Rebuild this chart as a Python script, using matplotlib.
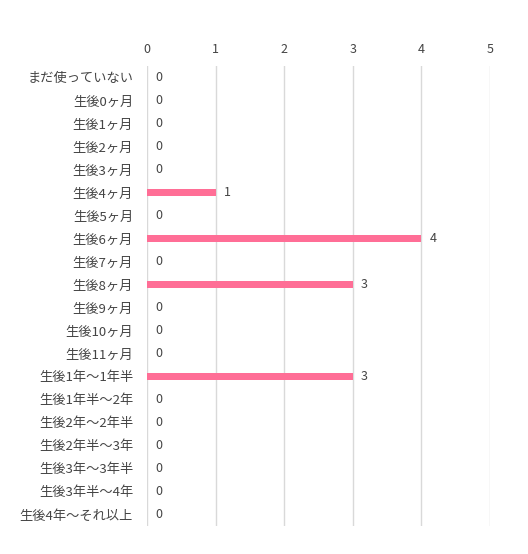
import matplotlib
matplotlib.use('Agg')
import matplotlib.pyplot as plt
import numpy as np

plt.rcParams['font.family'] = ['Noto Sans CJK JP', 'DejaVu Sans']

# data
categories = ['まだ使っていない', '生後0ヶ月', '生後1ヶ月', '生後2ヶ月', '生後3ヶ月',
              '生後4ヶ月', '生後5ヶ月', '生後6ヶ月', '生後7ヶ月', '生後8ヶ月',
              '生後9ヶ月', '生後10ヶ月', '生後11ヶ月', '生後1年～1年半', '生後1年半～2年',
              '生後2年～2年半', '生後2年半～3年', '生後3年～3年半', '生後3年半～4年', '生後4年～それ以上']
counts = [0, 0, 0, 0, 0, 1, 0, 4, 0, 3, 0, 0, 0, 3, 0, 0, 0, 0, 0, 0]
xticks = [0, 1, 2, 3, 4, 5]

bar_color = '#ff6e96'
text_color = '#444444'
grid_color = '#d9d9d9'

fig = plt.figure(figsize=(5.28, 5.54), dpi=100)
ax = fig.add_axes([147 / 528, 1 - 526 / 554, (490 - 147) / 528, (526 - 66) / 554])

y = np.arange(len(categories))
ax.barh(y, counts, height=0.32, color=bar_color, zorder=3)

for yi, v in zip(y, counts):
    ax.annotate(str(v), xy=(v, yi), xytext=(6, 0), textcoords='offset points',
                ha='left', va='center', fontsize=9, color=text_color)

ax.set_xlim(0, 5)
ax.set_ylim(len(categories) - 0.5, -0.5)
ax.set_yticks(y)
ax.set_yticklabels(categories, fontsize=9.5, color=text_color)
ax.set_xticks(xticks)
ax.set_xticklabels([str(t) for t in xticks], fontsize=9, color=text_color)
ax.xaxis.tick_top()
ax.tick_params(axis='x', length=0, pad=7.5)
ax.tick_params(axis='y', length=0, pad=10)
ax.grid(axis='x', color=grid_color, linewidth=1, zorder=0)
for s in ax.spines.values():
    s.set_visible(False)

fig.savefig('out.png', dpi=100)
